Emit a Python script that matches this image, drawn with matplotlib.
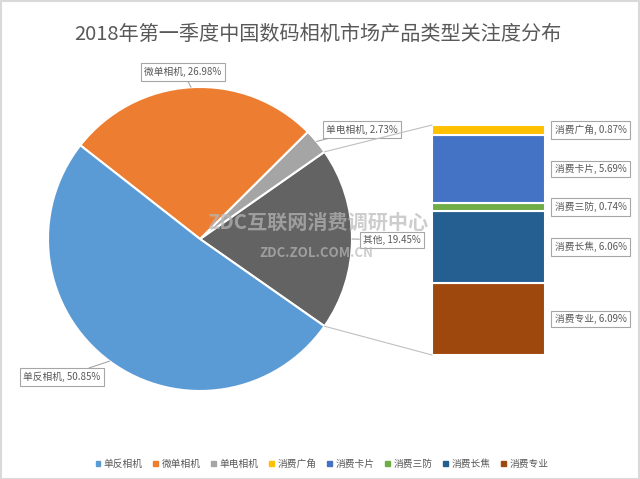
import numpy as np
import matplotlib
matplotlib.use('Agg')
from matplotlib import pyplot as plt
from matplotlib.patches import ConnectionPatch, Patch, Rectangle

plt.rcParams['font.family'] = ['Noto Sans CJK SC', 'DejaVu Sans']

# 饼图数据
pie_names = ['单反相机', '微单相机', '单电相机', '其他']
pie_values = [50.85, 26.98, 2.73, 19.45]
pie_colors = ['#5B9BD5', '#ED7D31', '#A5A5A5', '#636363']

# 其他 -> 堆积条形
bar_names = ['消费广角', '消费卡片', '消费三防', '消费长焦', '消费专业']
bar_values = [0.87, 5.69, 0.74, 6.06, 6.09]
bar_colors = ['#FFC000', '#4472C4', '#70AD47', '#255E91', '#9E480E']

title = '2018年第一季度中国数码相机市场产品类型关注度分布'
txt_color = '#595959'

W, H = 640, 479
fig = plt.figure(figsize=(W / 100, H / 100), dpi=100)
fig.patches.append(Rectangle((0.5 / W, 0.5 / H), 1 - 1.5 / W, 1 - 1.5 / H,
                             transform=fig.transFigure, fill=False,
                             ec='#D9D9D9', lw=1.5))


def px_box(x0, y0, w, h):
    # 像素(左上原点) -> figure 坐标
    return [x0 / W, (H - y0 - h) / H, w / W, h / H]


# 饼图: 其他 居中在右侧, 逆时针依次 单电, 微单, 单反
ax1 = fig.add_axes(px_box(48, 87, 304, 304))
order = [3, 2, 1, 0]
vals = [pie_values[i] for i in order]
other_angle = pie_values[3] / 100 * 360
wedges, _ = ax1.pie(vals, colors=[pie_colors[i] for i in order],
                    startangle=-other_angle / 2, counterclock=True,
                    wedgeprops=dict(edgecolor='white', linewidth=1.5))
ax1.set_xlim(-1, 1)
ax1.set_ylim(-1, 1)
ax1.set_aspect('equal')

label_pos = {'单反相机': (62, 377), '微单相机': (183, 72),
             '单电相机': (362, 129.5), '其他': (392, 240)}
bbox = dict(boxstyle='square,pad=0.35', fc='white', ec='#A6A6A6', lw=0.8)
for w, i in zip(wedges, order):
    name = pie_names[i]
    ang = np.deg2rad((w.theta1 + w.theta2) / 2)
    lx, ly = label_pos[name]
    ax1.annotate('%s, %.2f%%' % (name, pie_values[i]),
                 xy=(np.cos(ang), np.sin(ang)), xycoords='data',
                 xytext=(lx, H - ly), textcoords='figure pixels',
                 ha='center', va='center', fontsize=7, color=txt_color,
                 bbox=bbox, zorder=5,
                 arrowprops=dict(arrowstyle='-', color='#A6A6A6', lw=0.8,
                                 shrinkA=0, shrinkB=0))

# 堆积条形
ax2 = fig.add_axes(px_box(432, 125, 113, 230))
total = sum(bar_values)
bottom = 0
for name, v, c in reversed(list(zip(bar_names, bar_values, bar_colors))):
    ax2.bar(0, v, bottom=bottom, width=1, color=c, edgecolor='white', lw=1.5)
    ax2.annotate('%s, %.2f%%' % (name, v), xy=(0.5, bottom + v / 2),
                 xytext=(7, 0), textcoords='offset points',
                 ha='left', va='center', fontsize=7, color=txt_color,
                 bbox=bbox)
    bottom += v
ax2.set_xlim(-0.5, 0.5)
ax2.set_ylim(0, total)
ax2.axis('off')

# 连接线
t1, t2 = wedges[0].theta1, wedges[0].theta2
for t, yb in [(t2, total), (t1, 0)]:
    con = ConnectionPatch(xyA=(-0.5, yb), coordsA=ax2.transData,
                          xyB=(np.cos(np.deg2rad(t)), np.sin(np.deg2rad(t))),
                          coordsB=ax1.transData, color='#BFBFBF', lw=0.8)
    fig.add_artist(con)

fig.text(318 / W, 1 - 34 / H, title, ha='center', va='center',
         fontsize=14.5, color=txt_color)

# 水印
fig.text(318 / W, 1 - 222 / H, 'ZDC互联网消费调研中心', ha='center', va='center',
         fontsize=14.5, fontweight='bold', color='#B8B8B8', alpha=0.7)
fig.text(316 / W, 1 - 253 / H, 'ZDC.ZOL.COM.CN', ha='center', va='center',
         fontsize=9.5, fontweight='bold', color='#B8B8B8', alpha=0.7)

handles = [Patch(color=c) for c in pie_colors[:3] + bar_colors]
labels = pie_names[:3] + bar_names
fig.legend(handles, labels, loc='center', bbox_to_anchor=(322 / W, 15 / H),
           ncol=8, frameon=False, fontsize=7, labelcolor=txt_color,
           handlelength=0.45, handleheight=0.45, handletextpad=0.4,
           columnspacing=1.1)

fig.savefig('out.png', dpi=100)
